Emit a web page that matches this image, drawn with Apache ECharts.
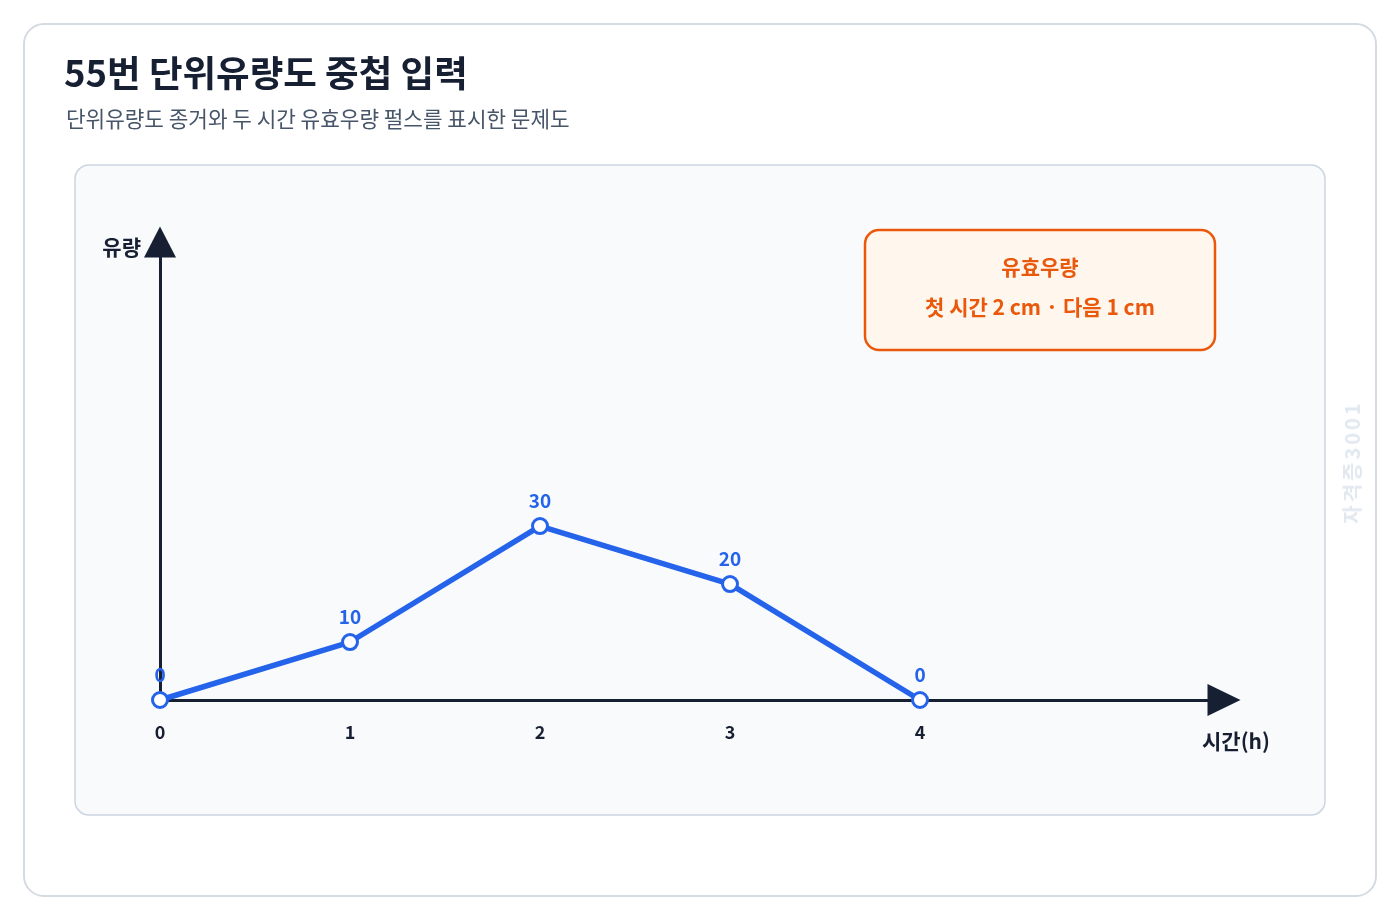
<!DOCTYPE html>
<html><head><meta charset="utf-8">
<script src="https://cdn.jsdelivr.net/npm/echarts@6/dist/echarts.min.js"></script>
<style>
html,body{margin:0;padding:0;background:#fff;}
#wrap{position:relative;width:1400px;height:920px;}
#c{width:1400px;height:920px;}
#wm{position:absolute;left:1352px;top:462px;transform:translate(-50%,-50%) rotate(-90deg);white-space:nowrap;
  font-family:'Noto Sans CJK KR','Noto Sans',sans-serif;font-size:20px;font-weight:600;letter-spacing:3px;color:#e2e8f0;line-height:1;}
</style>
</head><body><div id="wrap"><div id="c"></div><div id="wm"></div></div>
<script>
const hours = [0, 1, 2, 3, 4];
const flows = [0, 10, 30, 20, 0];
const xTicks = ['0', '1', '2', '3', '4'];
const titleText = '55번 단위유량도 중첩 입력';
const subtitleText = '단위유량도 종거와 두 시간 유효우량 펄스를 표시한 문제도';
const noteTitle = '유효우량';
const noteBody = '첫 시간 2 cm · 다음 1 cm';
const xName = '시간(h)';
const yName = '유량';
const watermark = '자격증3001';

document.getElementById('wm').textContent = watermark;

const FONT = "'Noto Sans CJK KR', 'Noto Sans', sans-serif";
const DARK = '#172033';
const BLUE = '#2563eb';
const ORANGE = '#ea580c';

const chart = echarts.init(document.getElementById('c'), null, {renderer: 'canvas'});
chart.setOption({
  backgroundColor: 'transparent',
  animation: false,
  textStyle: {fontFamily: FONT},
  title: [
    {text: titleText, left: 59, top: 50, textStyle: {fontSize: 36.5, fontWeight: 'bold', color: DARK, fontFamily: FONT}},
    {text: subtitleText, left: 61, top: 103, textStyle: {fontSize: 21.3, fontWeight: 'normal', color: '#475569', fontFamily: FONT}}
  ],
  graphic: [
    {type: 'rect', z: -10, shape: {x: 24, y: 24, width: 1352, height: 872, r: 20}, style: {fill: '#ffffff', stroke: '#d5dbe3', lineWidth: 2}},
    {type: 'rect', z: -9, shape: {x: 75, y: 165, width: 1250, height: 650, r: 14}, style: {fill: '#f8fafc', stroke: '#cbd5e1', lineWidth: 1.5}},
    {type: 'rect', z: 5, shape: {x: 865, y: 230, width: 350, height: 120, r: 14}, style: {fill: '#fff7ed', stroke: ORANGE, lineWidth: 2.5}},
    {type: 'text', z: 6, style: {x: 1040, y: 267, text: noteTitle, align: 'center', verticalAlign: 'middle', fill: ORANGE, font: 'bold 21px ' + FONT}},
    {type: 'text', z: 6, style: {x: 1040, y: 307, text: noteBody, align: 'center', verticalAlign: 'middle', fill: ORANGE, font: 'bold 21px ' + FONT}},
    {type: 'text', z: 6, style: {x: 141, y: 247, text: yName, align: 'right', verticalAlign: 'middle', fill: DARK, font: 'bold 21px ' + FONT}},
    {type: 'text', z: 6, style: {x: 1236, y: 741, text: xName, align: 'center', verticalAlign: 'middle', fill: DARK, font: 'bold 21px ' + FONT}}
  ],
  grid: {left: 160, right: 176, top: 242, bottom: 220, containLabel: false},
  xAxis: {
    type: 'value', min: 0, max: 5.6, interval: 1,
    splitLine: {show: false},
    axisTick: {show: false},
    axisLine: {show: true, lineStyle: {color: DARK, width: 3}, symbol: ['none', 'triangle'], symbolSize: [32, 33]},
    axisLabel: {
      show: true, margin: 23, fontSize: 18, fontWeight: 'bold', color: DARK, fontFamily: FONT,
      showMaxLabel: false,
      formatter: function (v) { const i = hours.indexOf(v); return i >= 0 ? xTicks[i] : ''; }
    }
  },
  yAxis: {
    type: 'value', min: 0, max: 79,
    splitLine: {show: false},
    axisTick: {show: false},
    axisLabel: {show: false},
    axisLine: {show: true, onZero: false, lineStyle: {color: DARK, width: 3}, symbol: ['none', 'triangle'], symbolSize: [32, 31]}
  },
  series: [{
    type: 'line',
    data: hours.map((h, i) => [h, flows[i]]),
    z: 3,
    lineStyle: {color: BLUE, width: 5.5},
    symbol: 'circle', symbolSize: 15,
    itemStyle: {color: '#ffffff', borderColor: BLUE, borderWidth: 3},
    label: {show: true, position: 'top', distance: 7, color: BLUE, fontSize: 19, fontWeight: 'bold', fontFamily: FONT,
      formatter: p => String(p.value[1])}
  }]
});
</script></body></html>
